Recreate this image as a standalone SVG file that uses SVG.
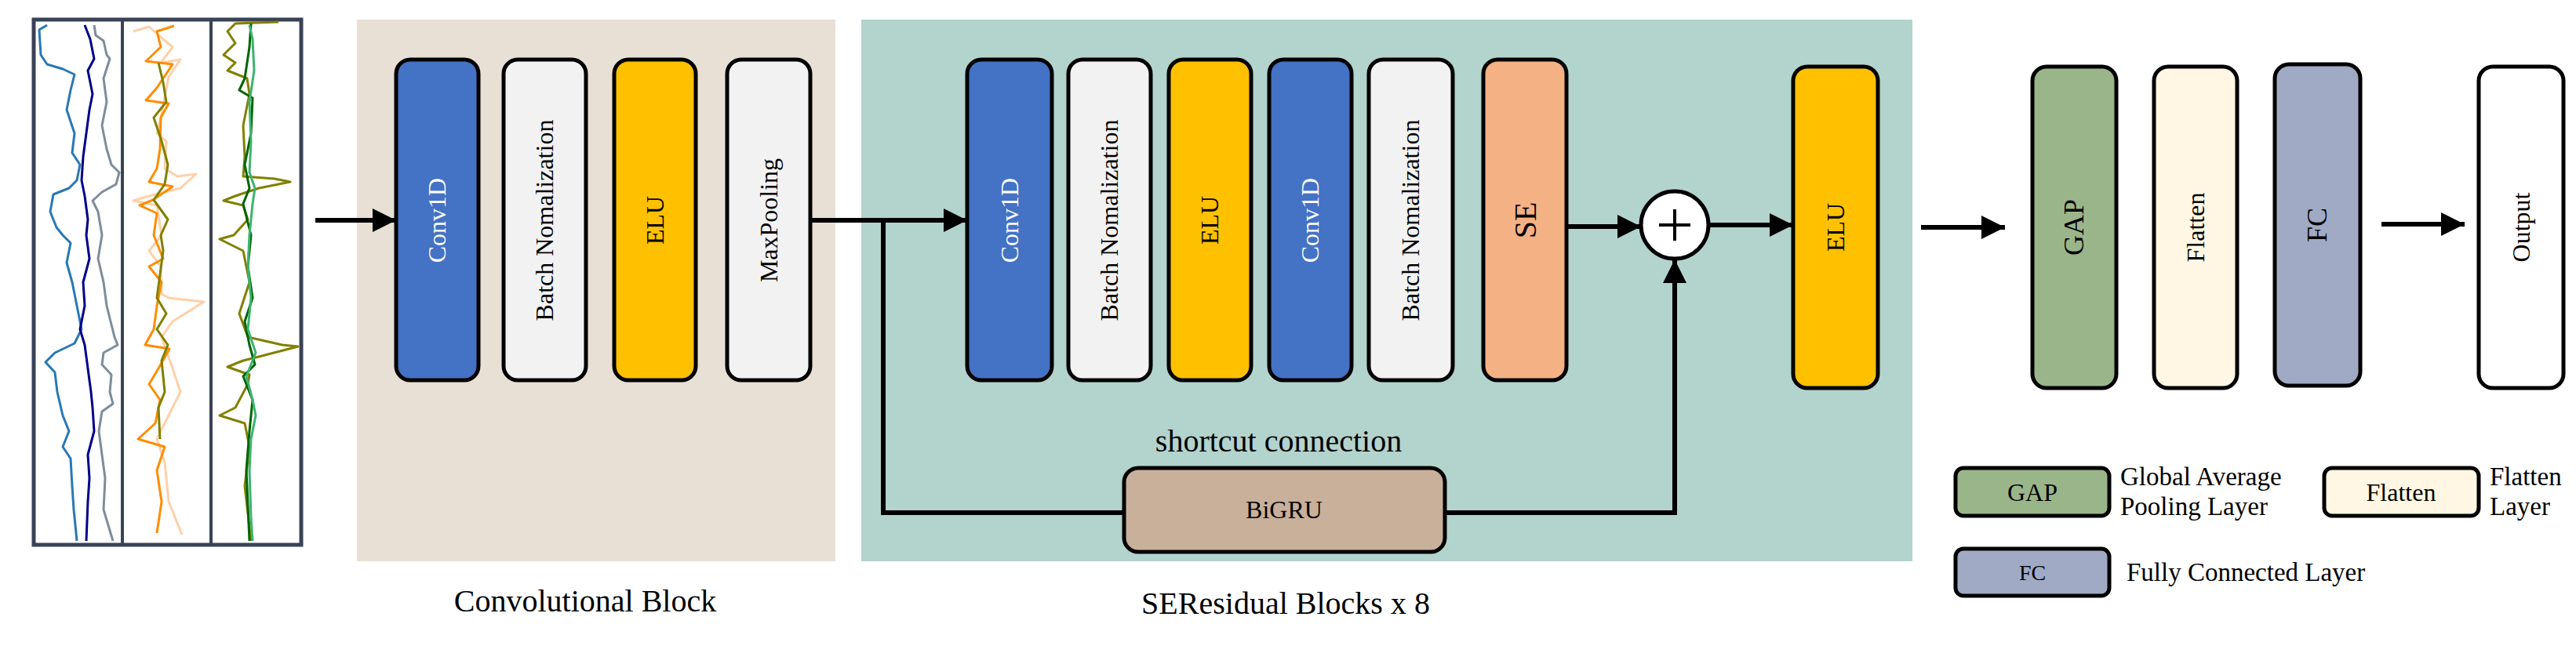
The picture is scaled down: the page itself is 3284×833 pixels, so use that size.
<svg xmlns="http://www.w3.org/2000/svg" width="3284" height="833" viewBox="0 0 3284 833">
<style>
.b{stroke:#000;stroke-width:5}
.t{font-family:"Liberation Serif","DejaVu Serif",serif;font-size:32px;text-anchor:middle;dominant-baseline:central}
.lab{font-family:"Liberation Serif","DejaVu Serif",serif;font-size:40px;text-anchor:middle}
.lg{font-family:"Liberation Serif","DejaVu Serif",serif;font-size:33px}
.c{fill:none;stroke:#000;stroke-width:6}
.s{fill:none;stroke-width:3;stroke-linejoin:round}
</style>
<defs>
<marker id="ah" viewBox="0 0 10 10" refX="10" refY="5" markerWidth="5" markerHeight="5" markerUnits="strokeWidth" orient="auto"><path d="M0,0L10,5L0,10z" fill="#000"/></marker>
</defs>
<rect x="455" y="25" width="610" height="691" fill="#e8e0d5"/>
<rect x="1098" y="25" width="1340" height="691" fill="#b3d3cd"/>
<g id="signals">
<rect x="43" y="25" width="341" height="670" fill="#fff" stroke="#3a4256" stroke-width="5"/>
<line x1="156" y1="25" x2="156" y2="695" stroke="#3a4256" stroke-width="4"/>
<line x1="269" y1="25" x2="269" y2="695" stroke="#3a4256" stroke-width="4"/>
<polyline class="s" stroke="#2878b5" points="60,32 50,38 52,70 60,82 80,88 95,95 90,115 85,140 95,170 92,195 102,210 98,230 88,240 68,248 64,270 72,290 80,300 90,310 85,335 92,360 98,390 104,420 95,438 70,450 58,462 70,475 73,500 80,530 88,550 80,570 90,585 92,620 94,650 98,690"/>
<polyline class="s" stroke="#00008b" points="108,32 115,50 120,75 112,90 118,120 114,140 110,170 106,200 104,230 108,250 112,280 110,300 114,330 106,360 108,390 102,420 108,440 112,470 116,500 118,520 120,550 112,580 114,610 112,640 110,690"/>
<polyline class="s" stroke="#7f8c9a" points="120,32 122,45 132,52 136,70 140,75 132,100 136,130 130,160 136,190 142,210 152,220 148,235 130,245 118,256 125,270 130,300 125,330 132,360 136,390 146,430 150,440 132,450 130,465 142,478 140,500 144,515 130,525 126,550 130,580 134,610 132,650 144,690"/>
<polyline class="s" stroke="#ffd0a8" points="170,40 190,34 208,50 220,60 205,80 230,76 215,98 205,150 200,170 212,180 210,215 226,225 250,222 230,240 190,250 170,256 200,262 206,300 190,320 205,340 206,375 215,380 260,385 220,410 206,430 220,470 230,500 220,520 200,560 210,590 215,640 232,682"/>
<polyline class="s" stroke="#ff8c00" points="222,33 200,40 205,60 186,78 220,82 200,112 186,128 215,132 205,150 204,190 200,215 190,232 220,238 195,255 178,262 200,272 196,300 208,330 190,340 206,360 200,390 196,420 185,440 216,445 202,470 190,490 204,510 198,540 176,560 210,570 200,600 206,640 200,680"/>
<polyline class="s" stroke="#808000" points="202,80 208,105 212,130 196,150 206,180 214,210 210,235 196,255 214,280 205,300 208,320 200,380 212,400 200,420 214,440 206,460 210,500 202,520 204,560"/>
<polyline class="s" stroke="#808000" points="355,28 300,30 290,40 300,55 285,70 300,80 290,90 315,100 318,120 310,160 312,200 310,225 350,228 370,232 330,240 300,250 285,256 310,262 316,280 298,300 280,305 310,320 318,360 305,400 316,430 360,440 380,442 330,455 310,460 290,468 318,478 316,490 300,520 280,530 312,540 318,570 312,620 320,690"/>
<polyline class="s" stroke="#006400" points="320,30 318,60 312,100 305,115 322,125 320,170 312,210 318,240 310,260 320,300 316,340 322,380 312,410 318,440 325,465 310,480 322,510 318,550 314,600 318,690"/>
<polyline class="s" stroke="#3cb371" points="318,32 322,50 324,90 318,130 320,180 318,220 325,240 322,260 318,300 316,340 320,380 316,420 326,450 314,480 322,510 326,530 320,560 318,600 320,660 322,690"/>
</g>
<g id="connectors">
<line class="c" x1="402" y1="281" x2="505" y2="281" marker-end="url(#ah)"/>
<line class="c" x1="1033" y1="281" x2="1233" y2="281" marker-end="url(#ah)"/>
<polyline class="c" points="1126,281 1126,654 1433,654"/>
<polyline class="c" points="1842,654 2135,654 2135,331" marker-end="url(#ah)"/>
<line class="c" x1="1997" y1="289" x2="2092" y2="289" marker-end="url(#ah)"/>
<line class="c" x1="2178" y1="287" x2="2286" y2="287" marker-end="url(#ah)"/>
<line class="c" x1="2449" y1="290" x2="2556" y2="290" marker-end="url(#ah)"/>
<line class="c" x1="3036" y1="286" x2="3142" y2="286" marker-end="url(#ah)"/>
</g>
<g id="conv1"><rect class="b" x="505" y="76" width="105" height="409" rx="18" fill="#4472c4"/><text class="t" fill="#fff" transform="translate(557,281) rotate(-90)">Conv1D</text></g>
<g id="bn1"><rect class="b" x="642" y="76" width="105" height="409" rx="18" fill="#f2f2f2"/><text class="t" transform="translate(694,281) rotate(-90)">Batch Nomalization</text></g>
<g id="elu1"><rect class="b" x="783" y="76" width="104" height="409" rx="18" fill="#ffc000"/><text class="t" transform="translate(835,281) rotate(-90)">ELU</text></g>
<g id="maxpool"><rect class="b" x="927" y="76" width="106" height="409" rx="18" fill="#f2f2f2"/><text class="t" transform="translate(980,281) rotate(-90)">MaxPooling</text></g>
<text class="lab" x="746" y="780">Convolutional Block</text>
<g id="conv2"><rect class="b" x="1233" y="76" width="108" height="409" rx="18" fill="#4472c4"/><text class="t" fill="#fff" transform="translate(1287,281) rotate(-90)">Conv1D</text></g>
<g id="bn2"><rect class="b" x="1362" y="76" width="105" height="409" rx="18" fill="#f2f2f2"/><text class="t" transform="translate(1414,281) rotate(-90)">Batch Nomalization</text></g>
<g id="elu2"><rect class="b" x="1490" y="76" width="105" height="409" rx="18" fill="#ffc000"/><text class="t" transform="translate(1542,281) rotate(-90)">ELU</text></g>
<g id="conv3"><rect class="b" x="1618" y="76" width="105" height="409" rx="18" fill="#4472c4"/><text class="t" fill="#fff" transform="translate(1670,281) rotate(-90)">Conv1D</text></g>
<g id="bn3"><rect class="b" x="1745" y="76" width="107" height="409" rx="18" fill="#f2f2f2"/><text class="t" transform="translate(1798,281) rotate(-90)">Batch Nomalization</text></g>
<g id="se"><rect class="b" x="1891" y="76" width="106" height="409" rx="18" fill="#f4b183"/><text class="t" style="font-size:40px" transform="translate(1944,281) rotate(-90)">SE</text></g>
<g id="add"><circle class="b" cx="2135" cy="287" r="43" fill="#fff"/><path d="M2115,287h40M2135,267v40" stroke="#000" stroke-width="4"/></g>
<g id="bigru"><rect class="b" x="1433" y="597" width="409" height="107" rx="18" fill="#c8b09a"/><text class="t" x="1637" y="650">BiGRU</text></g>
<text class="lab" x="1630" y="576">shortcut connection</text>
<text class="lab" x="1639" y="783">SEResidual Blocks x 8</text>
<g id="elu3"><rect class="b" x="2286" y="85" width="108" height="410" rx="18" fill="#ffc000"/><text class="t" transform="translate(2340,290) rotate(-90)">ELU</text></g>
<g id="gap"><rect class="b" x="2591" y="85" width="107" height="410" rx="18" fill="#9bb58a"/><text class="t" style="font-size:36px" transform="translate(2644,290) rotate(-90)">GAP</text></g>
<g id="flatten"><rect class="b" x="2746" y="85" width="106" height="410" rx="18" fill="#fff7e3"/><text class="t" transform="translate(2799,290) rotate(-90)">Flatten</text></g>
<g id="fc"><rect class="b" x="2900" y="82" width="109" height="410" rx="18" fill="#a0aac4"/><text class="t" style="font-size:36px" transform="translate(2954,287) rotate(-90)">FC</text></g>
<g id="output"><rect class="b" x="3160" y="85" width="108" height="410" rx="18" fill="#fff"/><text class="t" transform="translate(3214,290) rotate(-90)">Output</text></g>
<g id="legend">
<rect class="b" x="2493" y="597" width="196" height="61" rx="10" fill="#9bb58a"/><text class="t" x="2591" y="628">GAP</text>
<text class="lg" x="2703" y="619">Global Average</text><text class="lg" x="2703" y="657">Pooling Layer</text>
<rect class="b" x="2963" y="597" width="197" height="61" rx="10" fill="#fff7e3"/><text class="t" x="3061" y="628">Flatten</text>
<text class="lg" x="3174" y="619">Flatten</text><text class="lg" x="3174" y="657">Layer</text>
<rect class="b" x="2493" y="700" width="196" height="60" rx="10" fill="#a0aac4"/><text class="t" style="font-size:28px" x="2591" y="730">FC</text>
<text class="lg" x="2711" y="741">Fully Connected Layer</text>
</g>
</svg>
